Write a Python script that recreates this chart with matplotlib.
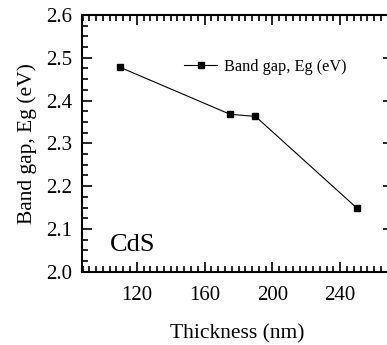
import numpy as np
import matplotlib
matplotlib.use('Agg')
import matplotlib.pyplot as plt
from matplotlib.ticker import MultipleLocator

thickness = [110, 175, 190, 250]
band_gap = [2.478, 2.368, 2.363, 2.148]

plt.rcParams['font.family'] = ['Liberation Serif', 'DejaVu Serif']

fig = plt.figure(figsize=(3.87, 3.45), dpi=100)
ax = fig.add_axes([0.211, 0.2125, 0.804, 0.744])

ax.plot(thickness, band_gap, color='black', linewidth=0.8, marker='s',
        markersize=4, label='Band gap, Eg (eV)')

ax.set_xlim(87.5, 271)
ax.set_ylim(2.0, 2.6)
ax.xaxis.set_major_locator(MultipleLocator(40))
ax.xaxis.set_minor_locator(MultipleLocator(4))
ax.yaxis.set_major_locator(MultipleLocator(0.1))
ax.yaxis.set_minor_locator(MultipleLocator(0.025))
ax.tick_params(which='both', direction='in', top=True, right=True,
               labelsize=15, width=1.2)
ax.tick_params(which='major', length=7)
ax.tick_params(which='minor', length=4)
ax.tick_params(axis='x', which='major', pad=10)
ax.tick_params(axis='y', which='major', pad=7)
ax.yaxis.set_major_formatter(plt.FormatStrFormatter('%.1f'))
for s in ax.spines.values():
    s.set_linewidth(1.5)

ax.set_xlabel('Thickness (nm)', fontsize=15.5, labelpad=14)
ax.set_ylabel('Band gap, Eg (eV)', fontsize=15.5, labelpad=6)
ax.text(0.09, 0.08, 'CdS', transform=ax.transAxes, fontsize=19)
ax.legend(loc='center left', bbox_to_anchor=(0.33, 0.797), frameon=False,
          fontsize=11.7, handlelength=2.0, handletextpad=0.45,
          borderpad=0, borderaxespad=0)

fig.savefig('out.png', dpi=100)
